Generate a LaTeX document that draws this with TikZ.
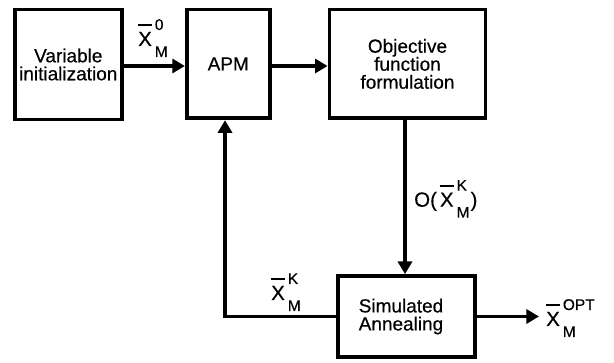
\documentclass[tikz,border=0pt]{standalone}
\usepackage{fontspec}
\setmainfont{Liberation Sans}[FakeBold=0.4]
\usetikzlibrary{arrows.meta}
\newcommand\xlab[2]{%
  \begingroup
  \setbox0\hbox{\fontsize{20.5}{20.5}\selectfont X}%
  \setbox1\hbox{\fontsize{15.5}{15.5}\selectfont #1}%
  \setbox2\hbox{\fontsize{15.5}{15.5}\selectfont #2}%
  \rlap{\raise\dimexpr\ht0+6pt\relax\hbox{\vrule width\wd0 height 2pt depth 0pt}}%
  \copy0\kern3pt%
  \rlap{\raise16pt\copy1}\rlap{\lower11pt\copy2}%
  \ifdim\wd1>\wd2 \hskip\wd1\else\hskip\wd2\fi
  \endgroup}
\begin{document}
\begin{tikzpicture}[x=1pt,y=-1pt,
  box/.style={draw, line width=3.8pt, rectangle, inner sep=0pt, align=center,
    font=\fontsize{19}{18}\selectfont},
  arr/.style={line width=3.8pt, -{Triangle[length=12.6pt,width=14pt]}},
  lab/.style={inner sep=0pt, anchor=base west, font=\fontsize{20.5}{20.5}\selectfont}]
\useasboundingbox (0,0) rectangle (614,363);
\node[box, minimum width=107.3pt, minimum height=110pt] (vi) at (68.3,64.5) {Variable\\initialization};
\node[box, minimum width=83pt, minimum height=108.8pt] (apm) at (228.3,63.9) {APM};
\node[box, minimum width=156pt, minimum height=108.8pt] (ofm) at (407.5,63.9) {Objective\\function\\formulation};
\node[box, minimum width=137pt, minimum height=81pt] (sa) at (406.5,316.5) {Simulated\hspace*{11pt}\\Annealing\hspace*{11pt}};
\coordinate (rowa) at (0,66);
\coordinate (colv) at (405,0);
\coordinate (colf) at (225,0);
\coordinate (out) at (539,316.5);
\draw[arr] (vi.east |- rowa) -- (apm.west |- rowa);
\draw[arr] (apm.east |- rowa) -- (ofm.west |- rowa);
\draw[arr] (ofm.south -| colv) -- (sa.north -| colv);
\draw[arr] (sa.west) -- (sa.west -| colf) -- (apm.south -| colf);
\draw[arr] (sa.east) -- (out);
\node[lab] (l0) at (138,46) {\xlab{0}{M}};
\node[lab] (lo) at (414,206.7) {O(\kern3pt\xlab{K}{M}\kern1pt)};
\node[lab] (lk) at (271,300) {\xlab{K}{M}};
\node[lab] (lopt) at (546,326) {\xlab{OPT}{M}};
\end{tikzpicture}
\end{document}
